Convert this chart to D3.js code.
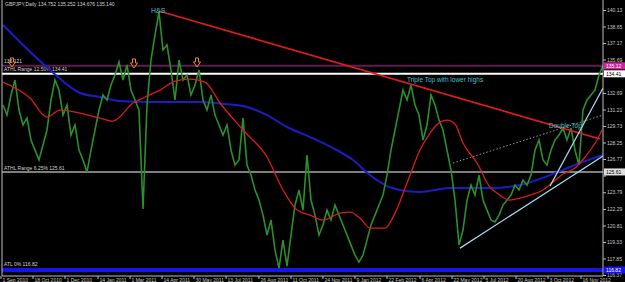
<!DOCTYPE html>
<html>
<head>
<meta charset="utf-8">
<script src="https://cdn.jsdelivr.net/npm/d3@7"></script>
<style>
  html, body { margin: 0; padding: 0; background: #000; }
  svg { display: block; font-family: "Liberation Sans", Arial, sans-serif; }
</style>
</head>
<body>
<svg id="chart" width="625" height="282"></svg>
<script>
// GBPJPY daily closes, one every 4 bars starting at bar 3
const priceClose = [
  131.61,130.71,132.51,133.85,131.16,129.82,130.44,128.47,127.57,126.68,
  128.02,129.37,132.06,133.85,132.95,130.71,131.61,128.92,129.82,127.57,
  126.68,125.60,127.57,129.37,131.16,132.51,132.06,133.40,134.30,135.47,
  133.85,135.20,132.95,132.06,131.16,122.28,131.61,135.65,137.89,139.95,
  136.54,136.99,134.75,132.06,135.65,133.85,134.30,132.51,133.40,134.75,
  132.06,131.16,132.51,130.71,129.82,128.92,129.82,127.57,126.23,126.68,
  130.44,126.23,125.33,123.99,123.09,121.74,119.95,121.30,118.60,116.99,
  119.50,117.17,119.95,122.64,123.99,122.19,127.13,123.09,121.74,119.95,
  120.85,122.19,121.30,122.64,121.74,120.85,119.95,119.05,118.16,117.53,
  118.16,119.50,120.85,121.74,122.64,123.54,125.33,127.57,129.37,131.16,
  132.95,132.06,133.40,131.61,130.71,128.47,129.82,132.51,131.61,130.26,
  129.37,127.57,125.78,123.09,119.05,120.40,123.09,124.43,123.54,125.33,
  123.09,122.19,121.30,121.12,121.74,122.64,123.09,123.54,124.43,123.99,
  124.88,124.43,125.33,127.57,128.47,126.68,126.23,127.57,128.47,128.92,
  129.55,128.47,129.55,127.57,126.23,131.16,132.06,132.51,132.95,134.30,
  135.14
];
const priceBars = priceClose.map((d, i) => 3 + i * 4);

// slow moving average (blue)
const slowBars = [3, 50, 80, 100, 120, 150, 180, 200, 225, 247, 267, 287, 310, 333, 353, 370, 387, 400, 420, 450, 490, 520, 550, 580, 603];
const slowVals = [138.78, 134.75, 132.69, 132.33, 131.97, 131.88, 131.88, 131.88, 131.70, 131.43, 130.71, 129.64, 128.74, 127.75, 126.68, 125.33, 124.34, 123.99, 123.81, 124.16, 124.16, 124.43, 125.33, 126.41, 127.13];

// fast moving average (red)
const fastBars = [3, 30, 47, 60, 80, 100, 113, 133, 145, 160, 175, 190, 205, 220, 243, 267, 283, 297, 310, 323, 340, 350, 360, 370, 385, 395, 407, 420, 430, 440, 447, 455, 463, 477, 490, 497, 510, 520, 530, 543, 553, 563, 575, 585, 597, 602];
const fastVals = [133.67, 132.24, 130.53, 131.16, 130.89, 130.44, 130.17, 131.79, 132.33, 132.95, 133.76, 133.94, 133.67, 131.79, 129.37, 126.95, 123.99, 122.19, 121.74, 121.30, 121.92, 122.01, 121.47, 120.58, 120.58, 121.92, 124.61, 127.57, 129.10, 130.08, 130.26, 129.91, 128.20, 126.41, 124.25, 123.72, 123.09, 123.27, 123.54, 123.99, 124.70, 125.42, 125.96, 126.95, 128.47, 129.37];

// horizontal levels
const levelVals = [135.121, 134.41, 125.61, 116.82];
const levelNames = ["135.121", "ATHL Range 12.50%  134.41", "ATHL Range 6.25%  125.61", "ATL 0%  116.82"];
const levelTags = ["135.12", "134.41", "125.61", "116.82"];

// hand drawn lines: [bar1, price1, bar2, price2]
const redTrend = [159, 140.04, 600, 128.56];
const dottedTrend = [453, 126.41, 603, 130.71];
const supportLow = [460, 118.78, 603, 127.04];
const supportSteep = [550, 124.34, 603, 133.13];

// annotations
const noteText = ["H&S", "Triple Top with lower highs", "Double Top"];
const noteBars = [151, 407, 549];
const notePrices = [139.83, 133.67, 129.55];

const arrowBars = [12, 134, 197];
const arrowPrices = [135.83, 135.74, 135.83];

const yTicks = [140.13, 138.65, 137.17, 135.69, 134.21, 132.69, 131.21, 129.73, 128.25, 126.77, 125.29, 123.79, 122.29, 120.81, 119.33, 117.85, 116.37];
const xTickBars = [1, 33, 65, 98, 130, 162, 194, 226, 259, 291, 323, 355, 387, 420, 452, 484, 516, 548, 581];
const xTickLabels = ["1 Sep 2010", "18 Oct 2010", "1 Dec 2010", "14 Jan 2011", "1 Mar 2011", "14 Apr 2011", "30 May 2011", "13 Jul 2011", "26 Aug 2011", "11 Oct 2011", "24 Nov 2011", "9 Jan 2012", "22 Feb 2012", "6 Apr 2012", "22 May 2012", "5 Jul 2012", "20 Aug 2012", "3 Oct 2012", "16 Nov 2012"];

const plotRight = 603, plotBottom = 276;
const small = 5;

const svg = d3.select("#chart");
svg.append("rect").attr("width", 625).attr("height", 282).attr("fill", "#000");

const x = d3.scaleLinear().domain([0, 603]).range([0, 603]);
const y = d3.scaleLinear().domain([140.13, 116.37]).range([10, 275]);

const plot = svg.append("g");
plot.append("clipPath").attr("id", "clip")
  .append("rect").attr("x", 2).attr("y", 0).attr("width", plotRight - 2).attr("height", plotBottom);
const g = plot.append("g").attr("clip-path", "url(#clip)");

// levels
const levelColor = ["#5c1f4e", "#ffffff", "#a8a8a8", "#1414ee"];
const levelWidth = [2, 2, 1.5, 4];
levelVals.forEach((v, i) => {
  g.append("line")
    .attr("x1", 2).attr("x2", plotRight)
    .attr("y1", y(v)).attr("y2", y(v))
    .attr("stroke", levelColor[i]).attr("stroke-width", levelWidth[i]);
  g.append("text")
    .attr("x", 4).attr("y", y(v) - levelWidth[i] / 2 - 1.5)
    .attr("font-size", small).attr("fill", "#d0d0d0")
    .text(levelNames[i]);
});

// moving averages
const curve = d3.line().x(d => x(d[0])).y(d => y(d[1])).curve(d3.curveMonotoneX);
g.append("path")
  .attr("d", curve(slowBars.map((b, i) => [b, slowVals[i]])))
  .attr("fill", "none").attr("stroke", "#1c1cc4").attr("stroke-width", 2);

// price
const priceLine = d3.line().x(d => x(d[0])).y(d => y(d[1]));
g.append("path")
  .attr("d", priceLine(priceBars.map((b, i) => [b, priceClose[i]])))
  .attr("fill", "none").attr("stroke", "#2b8f2b").attr("stroke-width", 1.6)
  .attr("stroke-linejoin", "miter");

g.append("path")
  .attr("d", curve(fastBars.map((b, i) => [b, fastVals[i]])))
  .attr("fill", "none").attr("stroke", "#d81c1c").attr("stroke-width", 1.3);

// trend lines
function seg(t, color, w, dash) {
  g.append("line")
    .attr("x1", x(t[0])).attr("y1", y(t[1]))
    .attr("x2", x(t[2])).attr("y2", y(t[3]))
    .attr("stroke", color).attr("stroke-width", w)
    .attr("stroke-dasharray", dash || null);
}
seg(redTrend, "#e21c1c", 1.6);
seg(dottedTrend, "#bcbcbc", 0.8, "1.5,2");
seg(supportLow, "#a6dcf2", 1.2);
seg(supportSteep, "#a6dcf2", 1.2);

// annotations
noteText.forEach((t, i) => {
  g.append("text")
    .attr("x", x(noteBars[i])).attr("y", y(notePrices[i]))
    .attr("font-size", i === 0 ? 7 : 6.5).attr("fill", "#3fc0c8")
    .text(t);
});

// arrows
arrowBars.forEach((b, i) => {
  const cx = x(b), top = y(arrowPrices[i]);
  g.append("path")
    .attr("d", `M${cx - 1.5},${top} h3 v4 h2 l-3.5,5 l-3.5,-5 h2 z`)
    .attr("fill", "none").attr("stroke", "#e8892e").attr("stroke-width", 1);
});

// header
svg.append("text")
  .attr("x", 5).attr("y", 6)
  .attr("font-size", small).attr("fill", "#d0d0d0")
  .text("GBPJPY,Daily  134.752 135.252 134.676 135.140");

// axes frame
svg.append("line").attr("x1", 2).attr("x2", 2).attr("y1", 0).attr("y2", plotBottom)
  .attr("stroke", "#bdbdbd").attr("stroke-width", 1);
svg.append("line").attr("x1", plotRight).attr("x2", plotRight).attr("y1", 0).attr("y2", plotBottom)
  .attr("stroke", "#bdbdbd").attr("stroke-width", 1);
svg.append("line").attr("x1", 2).attr("x2", plotRight).attr("y1", plotBottom).attr("y2", plotBottom)
  .attr("stroke", "#bdbdbd").attr("stroke-width", 1);

// right price scale (labels hidden behind a level tag are left out)
const tagged = yTicks.filter(t => levelVals.every(v => Math.abs(y(t) - y(v)) > 5));
const yAxis = d3.axisRight(y).tickValues(yTicks).tickSize(3).tickFormat(d => tagged.includes(d) ? d3.format(".2f")(d) : "");
const ya = svg.append("g").attr("transform", `translate(${plotRight},0)`).call(yAxis);
ya.select(".domain").remove();
ya.selectAll("line").attr("stroke", "#bdbdbd");
ya.selectAll("text").attr("x", 4).attr("font-size", small).attr("fill", "#c8c8c8")
  .attr("font-family", "Liberation Sans, Arial, sans-serif");

// level tags on price scale
const tagFill = ["#d3259c", "#ffffff", "#e0e0e0", "#1414ee"];
const tagText = ["#ffffff", "#000000", "#000000", "#ffffff"];
levelVals.forEach((v, i) => {
  svg.append("rect")
    .attr("x", plotRight + 1).attr("y", y(v) - 3.5).attr("width", 21).attr("height", 7)
    .attr("fill", tagFill[i]);
  svg.append("text")
    .attr("x", plotRight + 3).attr("y", y(v) + 2)
    .attr("font-size", small).attr("fill", tagText[i])
    .text(levelTags[i]);
});

// time scale
const xa = svg.append("g").attr("transform", `translate(0,${plotBottom})`);
xTickBars.forEach((b, i) => {
  xa.append("line").attr("x1", x(b)).attr("x2", x(b)).attr("y1", 0).attr("y2", 3)
    .attr("stroke", "#bdbdbd");
  xa.append("text").attr("x", x(b) + 1.5).attr("y", 5.5)
    .attr("font-size", small).attr("fill", "#c8c8c8")
    .text(xTickLabels[i]);
});
</script>
</body>
</html>
